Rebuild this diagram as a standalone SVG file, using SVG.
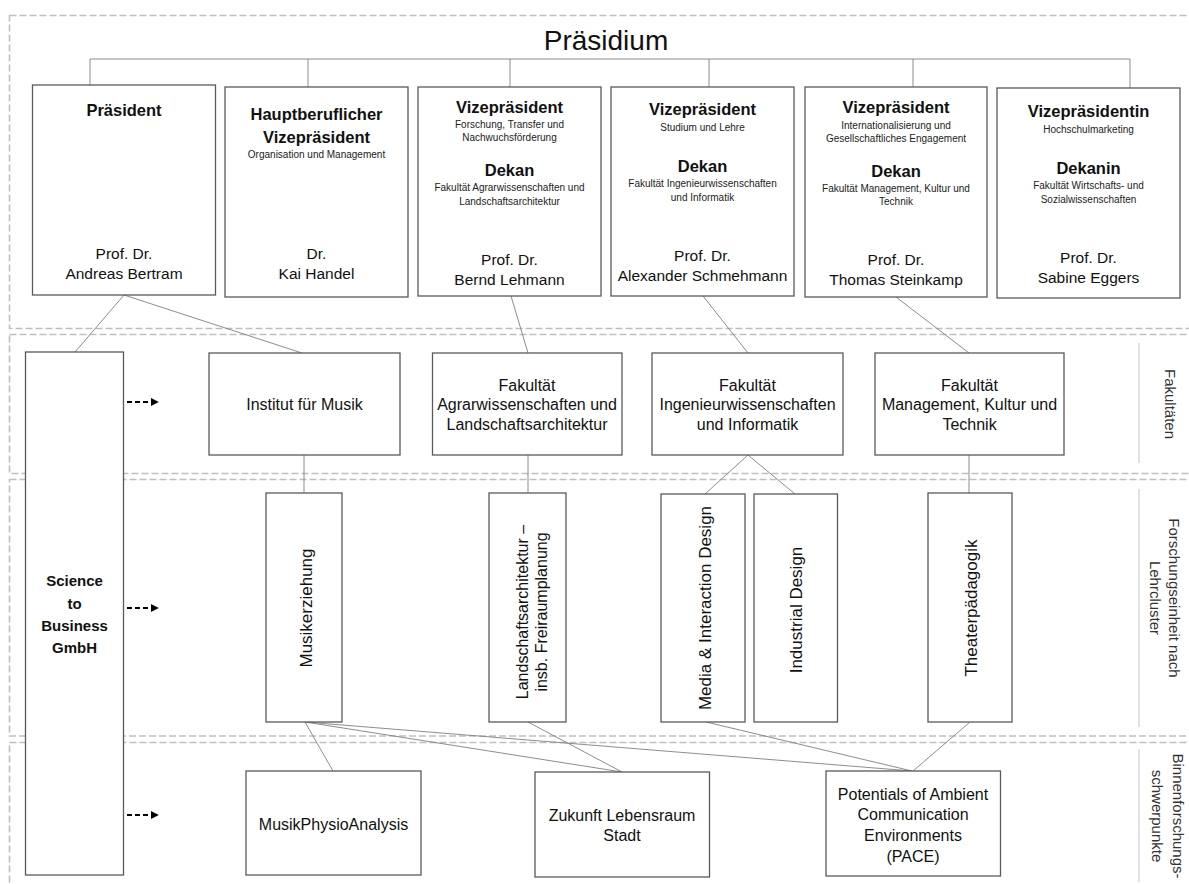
<svg xmlns="http://www.w3.org/2000/svg" width="1189" height="884" viewBox="0 0 1189 884">
  <defs>
    <marker id="arrowhead" viewBox="0 0 10 10" refX="9" refY="5" markerWidth="4" markerHeight="4" orient="auto" markerUnits="strokeWidth">
      <path d="M0,0 L10,5 L0,10 z" fill="#000"/>
    </marker>
    <style>
      text { font-family: "Liberation Sans", Arial, sans-serif; fill: #111; text-anchor: middle; }
      .frame { fill: none; stroke: #c0c0c0; stroke-width: 1.6; stroke-dasharray: 7 3; }
      .sep { stroke: #c8c8c8; stroke-width: 1; }
      .box { fill: #fff; stroke: #595959; stroke-width: 1.3; }
      .link { fill: none; stroke: #808080; stroke-width: 0.9; }
      .dash-arrow { fill: none; stroke: #000; stroke-width: 2; stroke-dasharray: 5 3; marker-end: url(#arrowhead); }
      .title { font-size: 28px; }
      .role { font-size: 16.5px; font-weight: bold; }
      .note { font-size: 10px; fill: #222; }
      .name { font-size: 15.5px; }
      .label { font-size: 16px; }
      .vlabel { font-size: 17px; }
      .side { font-size: 15px; fill: #333; }
      .corp { font-size: 15px; font-weight: bold; }
    </style>
  </defs>

  <!-- section frames -->
  <g id="sections">
    <rect class="frame" x="9.5" y="15.5" width="1200" height="313"/>
    <rect class="frame" x="9.5" y="334.5" width="1200" height="139"/>
    <rect class="frame" x="9.5" y="479.5" width="1200" height="256.5"/>
    <rect class="frame" x="9.5" y="742.5" width="1200" height="200"/>
    <line class="sep" x1="1139" y1="343" x2="1139" y2="463"/>
    <line class="sep" x1="1139" y1="489" x2="1139" y2="727"/>
    <line class="sep" x1="1139" y1="749" x2="1139" y2="882"/>
  </g>

  <!-- section captions -->
  <g id="captions">
    <text class="title" x="606" y="50">Präsidium</text>
    <text class="side" transform="rotate(90 1164.7 404)" x="1164.7" y="404">Fakultäten</text>
    <text class="side" transform="rotate(90 1169 598)" x="1169" y="598">Forschungseinheit nach</text>
    <text class="side" transform="rotate(90 1150 598)" x="1150" y="598">Lehrcluster</text>
    <text class="side" transform="rotate(90 1173 816)" x="1173" y="816">Binnenforschungs-</text>
    <text class="side" transform="rotate(90 1152 816)" x="1152" y="816">schwerpunkte</text>
  </g>

  <!-- connectors -->
  <g id="connectors">
    <path class="link" d="M90,85 V59 H1130 V88 M308,59 V87 M510,59 V87 M709,59 V87 M913,59 V87"/>
    <line class="link" x1="124" y1="295" x2="75" y2="352"/>
    <line class="link" x1="124" y1="295" x2="302" y2="353"/>
    <line class="link" x1="511" y1="296" x2="528" y2="353"/>
    <line class="link" x1="703" y1="296" x2="748" y2="353"/>
    <line class="link" x1="896" y1="297" x2="969" y2="353"/>
    <line class="link" x1="304" y1="455" x2="304" y2="493"/>
    <line class="link" x1="528" y1="455" x2="528" y2="493"/>
    <line class="link" x1="748" y1="455" x2="705" y2="494"/>
    <line class="link" x1="748" y1="455" x2="795" y2="494"/>
    <line class="link" x1="969" y1="455" x2="969" y2="493"/>
    <line class="link" x1="305" y1="722" x2="333" y2="771"/>
    <line class="link" x1="305" y1="722" x2="622" y2="772"/>
    <line class="link" x1="305" y1="722" x2="912" y2="771"/>
    <line class="link" x1="528" y1="722" x2="622" y2="772"/>
    <line class="link" x1="706" y1="722" x2="912" y2="771"/>
    <line class="link" x1="970" y1="722" x2="913" y2="771"/>
    <line class="dash-arrow" x1="127" y1="402" x2="158" y2="402"/>
    <line class="dash-arrow" x1="127" y1="608" x2="158" y2="608"/>
    <line class="dash-arrow" x1="127" y1="815" x2="158" y2="815"/>
  </g>

  <!-- Präsidium -->
  <g id="praesident">
    <rect class="box" x="32.5" y="85" width="183" height="210"/>
    <text class="role" x="124" y="116">Präsident</text>
    <text class="name" x="124" y="258.5">Prof. Dr.</text>
    <text class="name" x="124" y="278.5">Andreas Bertram</text>
  </g>
  <g id="vp-organisation">
    <rect class="box" x="225" y="87" width="183" height="210"/>
    <text class="role" x="316.5" y="120">Hauptberuflicher</text>
    <text class="role" x="316.5" y="143">Vizepräsident</text>
    <text class="note" x="316.5" y="157.5">Organisation und Management</text>
    <text class="name" x="316.5" y="258.5">Dr.</text>
    <text class="name" x="316.5" y="278.5">Kai Handel</text>
  </g>
  <g id="vp-forschung">
    <rect class="box" x="418" y="87" width="183" height="209"/>
    <text class="role" x="509.5" y="113">Vizepräsident</text>
    <text class="note" x="509.5" y="127.5">Forschung, Transfer und</text>
    <text class="note" x="509.5" y="140.5">Nachwuchsförderung</text>
    <text class="role" x="509.5" y="176">Dekan</text>
    <text class="note" x="509.5" y="190.5">Fakultät Agrarwissenschaften und</text>
    <text class="note" x="509.5" y="204.5">Landschaftsarchitektur</text>
    <text class="name" x="509.5" y="264.5">Prof. Dr.</text>
    <text class="name" x="509.5" y="284.5">Bernd Lehmann</text>
  </g>
  <g id="vp-studium">
    <rect class="box" x="611" y="87" width="183" height="209"/>
    <text class="role" x="702.5" y="115">Vizepräsident</text>
    <text class="note" x="702.5" y="130.5">Studium und Lehre</text>
    <text class="role" x="702.5" y="172">Dekan</text>
    <text class="note" x="702.5" y="186.5">Fakultät Ingenieurwissenschaften</text>
    <text class="note" x="702.5" y="200.5">und Informatik</text>
    <text class="name" x="702.5" y="260.5">Prof. Dr.</text>
    <text class="name" x="702.5" y="280.5">Alexander Schmehmann</text>
  </g>
  <g id="vp-international">
    <rect class="box" x="805" y="87" width="182" height="210"/>
    <text class="role" x="896" y="113">Vizepräsident</text>
    <text class="note" x="896" y="128.5">Internationalisierung und</text>
    <text class="note" x="896" y="141.5">Gesellschaftliches Engagement</text>
    <text class="role" x="896" y="177">Dekan</text>
    <text class="note" x="896" y="191.5">Fakultät Management, Kultur und</text>
    <text class="note" x="896" y="204.5">Technik</text>
    <text class="name" x="896" y="264.5">Prof. Dr.</text>
    <text class="name" x="896" y="284.5">Thomas Steinkamp</text>
  </g>
  <g id="vp-marketing">
    <rect class="box" x="997" y="88" width="183" height="210"/>
    <text class="role" x="1088.5" y="117">Vizepräsidentin</text>
    <text class="note" x="1088.5" y="132.5">Hochschulmarketing</text>
    <text class="role" x="1088.5" y="174">Dekanin</text>
    <text class="note" x="1088.5" y="188.5">Fakultät Wirtschafts- und</text>
    <text class="note" x="1088.5" y="202.5">Sozialwissenschaften</text>
    <text class="name" x="1088.5" y="262.5">Prof. Dr.</text>
    <text class="name" x="1088.5" y="282.5">Sabine Eggers</text>
  </g>

  <!-- Science to Business -->
  <g id="science-to-business">
    <rect class="box" x="25.5" y="352" width="98" height="523"/>
    <text class="corp" x="74.5" y="586">Science</text>
    <text class="corp" x="74.5" y="609">to</text>
    <text class="corp" x="74.5" y="631">Business</text>
    <text class="corp" x="74.5" y="653">GmbH</text>
  </g>

  <!-- Fakultäten -->
  <g id="institut-musik">
    <rect class="box" x="209" y="353" width="191" height="102"/>
    <text class="label" x="304.5" y="409.6">Institut für Musik</text>
  </g>
  <g id="fak-agrar">
    <rect class="box" x="432.5" y="353" width="189.5" height="102"/>
    <text class="label" x="527" y="390.6">Fakultät</text>
    <text class="label" x="527" y="409.6">Agrarwissenschaften und</text>
    <text class="label" x="527" y="429.6">Landschaftsarchitektur</text>
  </g>
  <g id="fak-ing">
    <rect class="box" x="652" y="353" width="191" height="102"/>
    <text class="label" x="747.5" y="390.6">Fakultät</text>
    <text class="label" x="747.5" y="409.6">Ingenieurwissenschaften</text>
    <text class="label" x="747.5" y="429.6">und Informatik</text>
  </g>
  <g id="fak-mkt">
    <rect class="box" x="875" y="353" width="189" height="102"/>
    <text class="label" x="969.5" y="390.6">Fakultät</text>
    <text class="label" x="969.5" y="409.6">Management, Kultur und</text>
    <text class="label" x="969.5" y="429.6">Technik</text>
  </g>

  <!-- Forschungseinheiten -->
  <g id="musikerziehung">
    <rect class="box" x="266" y="493" width="76" height="229"/>
    <text class="vlabel" transform="rotate(-90 312 608)" x="312" y="608">Musikerziehung</text>
  </g>
  <g id="landschaftsarchitektur">
    <rect class="box" x="489" y="493" width="77" height="229"/>
    <text class="label" transform="rotate(-90 527.6 612)" x="527.6" y="612">Landschaftsarchitektur –</text>
    <text class="label" transform="rotate(-90 547 612)" x="547" y="612">insb. Freiraumplanung</text>
  </g>
  <g id="media-design">
    <rect class="box" x="661" y="494" width="84" height="228"/>
    <text class="vlabel" transform="rotate(-90 711 608)" x="711" y="608">Media &amp; Interaction Design</text>
  </g>
  <g id="industrial-design">
    <rect class="box" x="754" y="494" width="83.5" height="228"/>
    <text class="vlabel" transform="rotate(-90 802 610)" x="802" y="610">Industrial Design</text>
  </g>
  <g id="theaterpaedagogik">
    <rect class="box" x="928" y="493" width="84" height="229"/>
    <text class="vlabel" transform="rotate(-90 977 608)" x="977" y="608">Theaterpädagogik</text>
  </g>

  <!-- Binnenforschungsschwerpunkte -->
  <g id="musikphysio">
    <rect class="box" x="246" y="771" width="175" height="104"/>
    <text class="label" x="333.5" y="829.6">MusikPhysioAnalysis</text>
  </g>
  <g id="zukunft-stadt">
    <rect class="box" x="535" y="772" width="174.5" height="105"/>
    <text class="label" x="622" y="820.6">Zukunft Lebensraum</text>
    <text class="label" x="622" y="840.6">Stadt</text>
  </g>
  <g id="pace">
    <rect class="box" x="826" y="771" width="174.5" height="105"/>
    <text class="label" x="913" y="799.6">Potentials of Ambient</text>
    <text class="label" x="913" y="819.6">Communication</text>
    <text class="label" x="913" y="840.6">Environments</text>
    <text class="label" x="913" y="861.6">(PACE)</text>
  </g>
</svg>
